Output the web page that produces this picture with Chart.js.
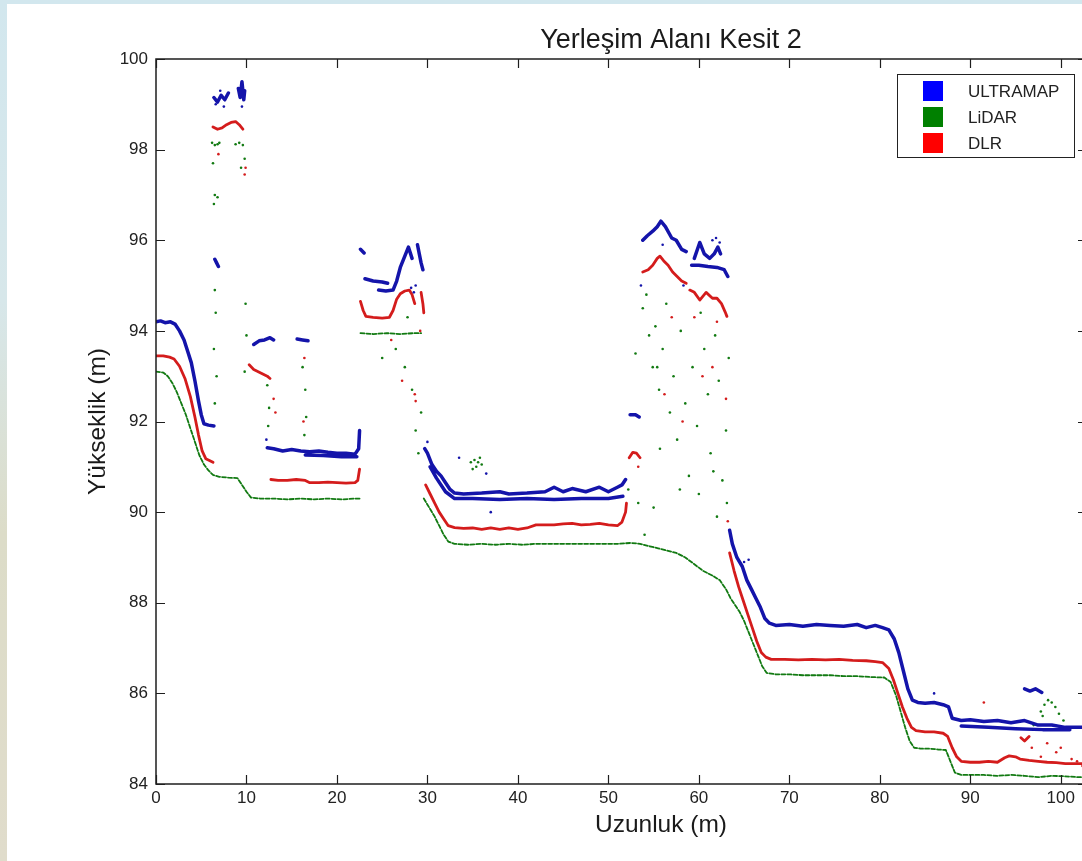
<!DOCTYPE html>
<html><head><meta charset="utf-8">
<script src="https://cdn.jsdelivr.net/npm/chart.js@4"></script>
<style>
html,body{margin:0;padding:0;overflow:hidden;width:1082px;height:861px;}
body{background:linear-gradient(to bottom,#d2e7ee 0%,#d7e7ea 35%,#dcdcc8 62%,#e0dccb 100%);position:relative;}
#panel{position:absolute;left:7px;top:4px;width:1200px;height:900px;background:#fff;}
#c{position:absolute;left:0;top:0;width:1100px;height:861px;}
</style></head><body><div id="panel"></div><canvas id="c" width="1100" height="861"></canvas>
<script>
// ---- texts ----
const chartTitle = 'Yerleşim Alanı Kesit 2';
const xTitle = 'Uzunluk (m)';
const yTitle = 'Yükseklik (m)';
const seriesNames = ['ULTRAMAP', 'LiDAR', 'DLR'];
const xTicks = [0,10,20,30,40,50,60,70,80,90,100];
const yTicks = [84,86,88,90,92,94,96,98,100];
const xMin = 0, xMax = 102.9, yMin = 84, yMax = 100;

// ---- ULTRAMAP (x m, height m); null = gap ----
const ultramapLine = [
 [0,94.2],[0.5,94.22],[1,94.18],[1.6,94.2],[2.1,94.15],[2.6,94.0],[3.1,93.8],[3.5,93.55],[3.9,93.3],[4.3,92.9],[4.7,92.45],[5.0,92.15],[5.3,91.95],[5.8,91.92],[6.4,91.9],null,
 [6.4,99.15],[6.8,99.05],[7.2,99.2],[7.6,99.1],[8.0,99.25],null,
 [9.1,99.35],[9.3,99.15],[9.5,99.5],[9.7,99.1],[9.8,99.3],null,
 [6.5,95.58],[6.7,95.5],[6.9,95.42],null,
 [10.8,93.7],[11.4,93.78],[12.0,93.8],[12.6,93.85],[13.0,93.8],null,
 [15.6,93.82],[16.2,93.8],[16.8,93.78],null,
 [12.3,91.42],[13,91.4],[14,91.35],[15,91.38],[16,91.35],[17,91.33],[18,91.35],[19,91.32],[20,91.3],[21,91.3],[22,91.28],[22.4,91.4],[22.5,91.8],null,
 [16.5,91.26],[18.5,91.25],[20.5,91.22],[22.2,91.22],null,
 [22.6,95.8],[23.0,95.72],null,
 [23.1,95.15],[24,95.1],[25,95.08],[25.6,95.05],null,
 [24.6,94.9],[25.4,94.88],[26.2,94.9],[26.6,95.1],[27.0,95.4],[27.5,95.65],[27.9,95.85],[28.3,95.6],null,
 [28.9,95.9],[29.1,95.7],[29.3,95.5],[29.5,95.35],null,
 [29.7,91.4],[30,91.3],[30.5,91.05],[31,90.9],[31.5,90.8],[32,90.65],[32.5,90.5],[33,90.42],[34,90.4],[36,90.42],[38,90.45],[39,90.4],[41,90.42],[43,90.45],[44,90.55],[45,90.45],[46,90.52],[47.5,90.45],[49,90.55],[50,90.45],[51,90.55],[51.5,90.6],[51.9,90.72],null,
 [30.3,91.0],[31,90.75],[32,90.45],[33,90.3],[35,90.3],[38,90.28],[41,90.3],[44,90.28],[47,90.3],[50,90.3],[51.6,90.35],null,
 [52.4,92.15],[53,92.15],[53.4,92.1],null,
 [53.8,96.0],[54.3,96.1],[54.9,96.2],[55.4,96.3],[55.8,96.42],[56.3,96.3],[57,96.05],[57.5,96.0],[58.1,95.8],[58.6,95.75],null,
 [59.2,95.45],[60,95.45],[61,95.42],[62,95.4],[62.8,95.35],[63.2,95.2],null,
 [59.5,95.6],[60.1,95.95],[60.6,95.7],[61.2,95.6],[61.7,95.7],[62.1,95.85],[62.4,95.7],null,
 [63.4,89.6],[63.7,89.3],[64.2,89.0],[64.8,88.8],[65.3,88.5],[65.8,88.3],[66.3,88.1],[66.8,87.9],[67.3,87.65],[67.8,87.55],[68.5,87.5],[70,87.52],[71.5,87.48],[73,87.52],[74.5,87.5],[76,87.48],[77.5,87.52],[78.5,87.45],[79.5,87.5],[80.3,87.45],[81,87.4],[81.6,87.2],[82.1,86.9],[82.6,86.5],[83.1,86.1],[83.6,85.85],[84.2,85.8],[85,85.78],[86,85.8],[87,85.75],[87.6,85.7],[88,85.45],[89,85.4],[90,85.42],[91.5,85.38],[93,85.4],[94.5,85.35],[96,85.4],[97.5,85.3],[99,85.3],[100.5,85.25],[102,85.25],[102.9,85.25],null,
 [89,85.28],[92,85.25],[95,85.22],[98,85.2],[101,85.2],null,
 [96.0,86.1],[96.6,86.05],[97.2,86.1],[97.9,86.02]
];
const ultramapDots = [
 [6.6,99.0],[7.1,99.3],[7.5,98.95],[9.5,98.95],[12.2,91.6],[30.0,91.55],[33.5,91.2],[36.5,90.85],[37.0,90.0],
 [53.6,95.0],[56.0,95.9],[58.3,95.0],[61.5,96.0],[61.9,96.05],[62.3,95.95],[63.6,89.4],[65.0,88.9],[65.5,88.95],[86.0,86.0],
 [28.2,94.95],[28.5,94.85],[28.7,95.0]
];

// ---- LiDAR ----
const lidarLine = [
 [0,93.1],[0.8,93.08],[1.3,93.0],[1.8,92.85],[2.3,92.65],[2.8,92.4],[3.3,92.15],[3.8,91.85],[4.3,91.55],[4.8,91.25],[5.3,91.05],[5.8,90.92],[6.3,90.82],[7,90.78],[8,90.76],[9,90.75],[9.5,90.6],[10,90.45],[10.5,90.32],[11.5,90.3],[13,90.3],[14.5,90.28],[16,90.3],[17.5,90.28],[19,90.3],[20.5,90.28],[22,90.3],[22.5,90.3],null,
 [22.6,93.95],[24,93.93],[25.5,93.95],[27,93.93],[28.5,93.95],[29.3,93.95],null,
 [29.6,90.3],[30.2,90.1],[30.8,89.9],[31.3,89.7],[31.8,89.5],[32.3,89.35],[33,89.3],[34.5,89.28],[36,89.3],[37.5,89.28],[39,89.3],[40.5,89.28],[42,89.3],[43.5,89.3],[45,89.3],[46.5,89.3],[48,89.3],[49.5,89.3],[51,89.3],[52.5,89.32],[53.5,89.3],[54.5,89.25],[55.5,89.2],[56.5,89.15],[57.5,89.1],[58.5,89.0],[59.5,88.85],[60.5,88.7],[61.5,88.6],[62.3,88.5],[63,88.3],[63.5,88.1],[64,87.95],[64.5,87.8],[65,87.6],[65.5,87.35],[66,87.1],[66.5,86.85],[67,86.6],[67.5,86.45],[68.5,86.42],[70,86.42],[71.5,86.4],[73,86.4],[74.5,86.4],[76,86.38],[77.5,86.38],[79,86.36],[80.5,86.35],[81.2,86.25],[81.8,85.95],[82.3,85.6],[82.8,85.25],[83.3,84.95],[83.8,84.8],[84.5,84.78],[85.5,84.78],[86.5,84.76],[87.3,84.75],[87.8,84.5],[88.3,84.25],[89,84.2],[90,84.2],[91.5,84.2],[93,84.18],[94.5,84.2],[96,84.18],[97.5,84.15],[99,84.18],[100.5,84.17],[102,84.15],[102.9,84.15]
];
const lidarDots = [
 [6.2,98.15],[6.5,98.1],[6.8,98.12],[7.0,98.15],[8.8,98.12],[9.2,98.15],[9.6,98.1],
 [6.3,97.7],[6.5,97.0],[6.4,96.8],[6.8,96.95],[6.5,94.9],[6.6,94.4],[6.4,93.6],[6.7,93.0],[6.5,92.4],
 [9.4,97.6],[9.8,97.8],[9.9,94.6],[10.0,93.9],[9.8,93.1],[12.3,92.8],[12.5,92.3],[12.4,91.9],
 [16.2,93.2],[16.5,92.7],[16.6,92.1],[16.4,91.7],
 [25.0,93.4],[26.5,93.6],[27.5,93.2],[28.3,92.7],[28.7,91.8],[29.0,91.3],[27.8,94.3],[29.3,92.2],
 [34.8,91.1],[35.2,91.15],[35.6,91.1],[36.0,91.05],[35.4,91.0],[35.0,90.95],[35.8,91.2],
 [52.2,90.5],[53.0,93.5],[53.8,94.5],[54.2,94.8],[54.5,93.9],[54.9,93.2],[55.2,94.1],[55.6,92.7],[56.0,93.6],[56.4,94.6],[56.8,92.2],[57.2,93.0],[57.6,91.6],[58.0,94.0],[58.5,92.4],[58.9,90.8],[59.3,93.2],[59.8,91.9],[60.2,94.4],[60.6,93.6],[61.0,92.6],[61.3,91.3],[61.8,93.9],[62.2,92.9],[62.6,90.7],[63.0,91.8],[63.3,93.4],[53.3,90.2],[54.0,89.5],[55.0,90.1],[60.0,90.4],[62.0,89.9],[55.4,93.2],[55.7,91.4],[57.9,90.5],[61.6,90.9],[63.1,90.2],
 [97.8,85.6],[98.2,85.75],[98.6,85.85],[99.0,85.8],[99.4,85.7],[98.0,85.5],[99.8,85.55],[100.3,85.4],[97.0,85.3],[98.8,85.2]
];

// ---- DLR ----
const dlrLine = [
 [0,93.45],[0.8,93.45],[1.5,93.42],[2.0,93.38],[2.6,93.22],[3.2,92.95],[3.8,92.55],[4.3,92.1],[4.7,91.7],[5.1,91.35],[5.5,91.18],[6.3,91.1],null,
 [6.3,98.5],[6.8,98.45],[7.3,98.48],[7.8,98.55],[8.3,98.6],[8.8,98.62],[9.2,98.55],[9.6,98.45],null,
 [10.3,93.25],[10.8,93.15],[11.3,93.1],[11.8,93.05],[12.3,93.0],[12.6,92.95],null,
 [12.7,90.72],[13.5,90.7],[14.5,90.7],[15.5,90.72],[16.5,90.7],[17,90.65],[18,90.65],[19,90.66],[20,90.65],[21,90.64],[22,90.65],[22.3,90.7],[22.5,90.95],null,
 [22.6,94.65],[22.9,94.45],[23.2,94.32],[24,94.3],[25,94.28],[25.8,94.3],[26.2,94.45],[26.6,94.7],[27,94.82],[27.5,94.88],[28,94.9],[28.3,94.8],[28.6,94.6],null,
 [29.3,94.85],[29.5,94.6],[29.6,94.4],null,
 [29.8,90.6],[30.3,90.4],[30.8,90.2],[31.3,90.0],[31.8,89.85],[32.3,89.7],[33,89.66],[34,89.64],[35,89.65],[36,89.62],[37,89.65],[38,89.62],[39,89.65],[40,89.62],[41,89.65],[42,89.72],[43,89.72],[44,89.72],[45,89.74],[46,89.75],[47,89.72],[48,89.73],[49,89.75],[50,89.72],[51,89.7],[51.5,89.78],[51.9,90.0],[52.0,90.2],null,
 [52.3,91.2],[52.7,91.32],[53.1,91.3],[53.5,91.2],null,
 [53.8,95.3],[54.4,95.35],[54.9,95.45],[55.4,95.6],[55.7,95.65],[56.1,95.55],[56.6,95.45],[57.1,95.3],[57.6,95.2],[58.1,95.1],[58.6,95.05],null,
 [59.0,94.9],[59.5,94.85],[60.1,94.68],[60.8,94.85],[61.5,94.72],[62.0,94.72],[62.5,94.6],[62.9,94.42],[63.1,94.32],null,
 [63.4,89.1],[63.9,88.7],[64.4,88.35],[64.9,88.05],[65.4,87.75],[65.9,87.45],[66.4,87.15],[66.9,86.9],[67.4,86.8],[68,86.75],[69.5,86.75],[71,86.74],[72.5,86.75],[74,86.74],[75.5,86.75],[77,86.73],[78.5,86.72],[79.5,86.7],[80.3,86.68],[81,86.55],[81.5,86.3],[82,86.0],[82.5,85.7],[83,85.45],[83.5,85.25],[84,85.18],[85,85.15],[86,85.15],[87,85.12],[87.5,85.05],[88,84.8],[88.5,84.6],[89,84.5],[90,84.48],[91,84.48],[92,84.5],[93,84.48],[93.8,84.58],[94.3,84.62],[95,84.6],[95.5,84.55],[96.5,84.52],[97.5,84.5],[98.5,84.48],[99.5,84.47],[100.5,84.45],[101.5,84.45],[102.9,84.45],null,
 [95.6,85.02],[96.0,84.95],[96.5,85.05]
];
const dlrDots = [
 [9.8,97.45],[9.9,97.6],[6.9,97.9],[13.0,92.5],[13.2,92.2],[16.4,93.4],[16.3,92.0],[28.6,92.6],[28.7,92.45],[26.0,93.8],[27.2,92.9],[29.2,94.0],
 [53.3,91.0],[57.0,94.3],[58.2,92.0],[59.5,94.3],[61.5,93.2],[62.0,94.2],[63.0,92.5],[63.2,89.8],[56.2,92.6],[60.4,93.0],
 [91.5,85.8],[96.8,84.8],[97.2,85.2],[98.5,84.9],[99.5,84.7],[100.0,84.8],[97.8,84.6],[101.2,84.55],[101.8,84.5],[102.4,84.4]
];

// ---- colours ----
const markColors = ['#1414aa', '#127a12', '#d41c1c'];
const legendColors = ['#0000ff', '#008000', '#ff0000'];
const FONT = '"Liberation Sans", Arial, sans-serif';

const toPts = arr => arr.map(p => p ? {x: p[0], y: p[1]} : {x: null, y: null});

const lineDs = (label, arr, color, w, dash) => ({
  label, data: toPts(arr), showLine: true, spanGaps: false,
  borderColor: color, backgroundColor: color, borderWidth: w, borderDash: dash || [],
  pointRadius: 0, borderJoinStyle: 'round', borderCapStyle: 'round', tension: 0
});
const dotDs = (label, arr, color) => ({
  label, data: toPts(arr), showLine: false,
  backgroundColor: color, borderColor: color, pointRadius: 1.3, pointBorderWidth: 0
});

const frame = {
  id: 'frame',
  afterDraw(chart) {
    const {ctx, chartArea: a, scales: {x, y}} = chart;
    ctx.save();
    ctx.strokeStyle = '#1e1e1e';
    ctx.lineWidth = 1.5;
    ctx.strokeRect(a.left, a.top, a.right - a.left, a.bottom - a.top);
    ctx.lineWidth = 1.2;
    ctx.beginPath();
    xTicks.forEach(v => {
      const p = Math.round(x.getPixelForValue(v)) + 0.5;
      ctx.moveTo(p, a.bottom); ctx.lineTo(p, a.bottom - 9);
      ctx.moveTo(p, a.top); ctx.lineTo(p, a.top + 9);
    });
    yTicks.forEach(v => {
      const p = Math.round(y.getPixelForValue(v)) + 0.5;
      ctx.moveTo(a.left, p); ctx.lineTo(a.left + 9, p);
      ctx.moveTo(a.right, p); ctx.lineTo(a.right - 9, p);
    });
    ctx.stroke();

    // legend
    const bx = a.right - 190, by = a.top + 15, bw = 177, bh = 83;
    ctx.fillStyle = '#fff';
    ctx.fillRect(bx, by, bw, bh);
    ctx.lineWidth = 1;
    ctx.strokeStyle = '#222';
    ctx.strokeRect(bx + 0.5, by + 0.5, bw, bh);
    ctx.font = '17px ' + FONT;
    ctx.textAlign = 'left';
    ctx.textBaseline = 'middle';
    seriesNames.forEach((n, i) => {
      const cy = by + 17 + i * 26;
      ctx.fillStyle = legendColors[i];
      ctx.fillRect(bx + 26, cy - 10, 20, 20);
      ctx.fillStyle = '#222';
      ctx.fillText(n, bx + 71, cy + 1);
    });

    // title & axis titles
    ctx.fillStyle = '#1a1a1a';
    ctx.textAlign = 'center';
    ctx.textBaseline = 'alphabetic';
    ctx.font = '27px ' + FONT;
    ctx.fillText(chartTitle, a.left + 515, a.top - 11);
    ctx.font = '24.5px ' + FONT;
    ctx.fillText(xTitle, a.left + 505, a.bottom + 48);
    ctx.save();
    ctx.translate(a.left - 51, (a.top + a.bottom) / 2);
    ctx.rotate(-Math.PI / 2);
    ctx.fillText(yTitle, 0, 0);
    ctx.restore();
    ctx.restore();
  }
};

const tickFont = {family: FONT, size: 17};

new Chart(document.getElementById('c'), {
  type: 'scatter',
  data: {
    datasets: [
      lineDs(seriesNames[0], ultramapLine, markColors[0], 3.5),
      dotDs(seriesNames[0], ultramapDots, markColors[0]),
      lineDs(seriesNames[2], dlrLine, markColors[2], 2.8),
      dotDs(seriesNames[2], dlrDots, markColors[2]),
      lineDs(seriesNames[1], lidarLine, markColors[1], 1.8, [4, 2]),
      dotDs(seriesNames[1], lidarDots, markColors[1])
    ]
  },
  options: {
    responsive: false,
    animation: false,
    events: [],
    layout: {padding: {left: 0, right: 13, top: 59, bottom: 0}},
    plugins: {legend: {display: false}, title: {display: false}, tooltip: {enabled: false}},
    scales: {
      x: {
        type: 'linear', min: xMin, max: xMax,
        afterBuildTicks: s => { s.ticks = xTicks.map(v => ({value: v})); },
        afterFit: s => { s.height = 77; },
        grid: {display: false, drawTicks: false},
        border: {display: false},
        ticks: {padding: 4, color: '#222', font: tickFont, maxRotation: 0, autoSkip: false}
      },
      y: {
        type: 'linear', min: yMin, max: yMax,
        afterBuildTicks: s => { s.ticks = yTicks.map(v => ({value: v})); },
        afterFit: s => { s.width = 156; },
        grid: {display: false, drawTicks: false},
        border: {display: false},
        ticks: {padding: 8, color: '#222', font: tickFont, autoSkip: false}
      }
    }
  },
  plugins: [frame]
});
</script></body></html>
